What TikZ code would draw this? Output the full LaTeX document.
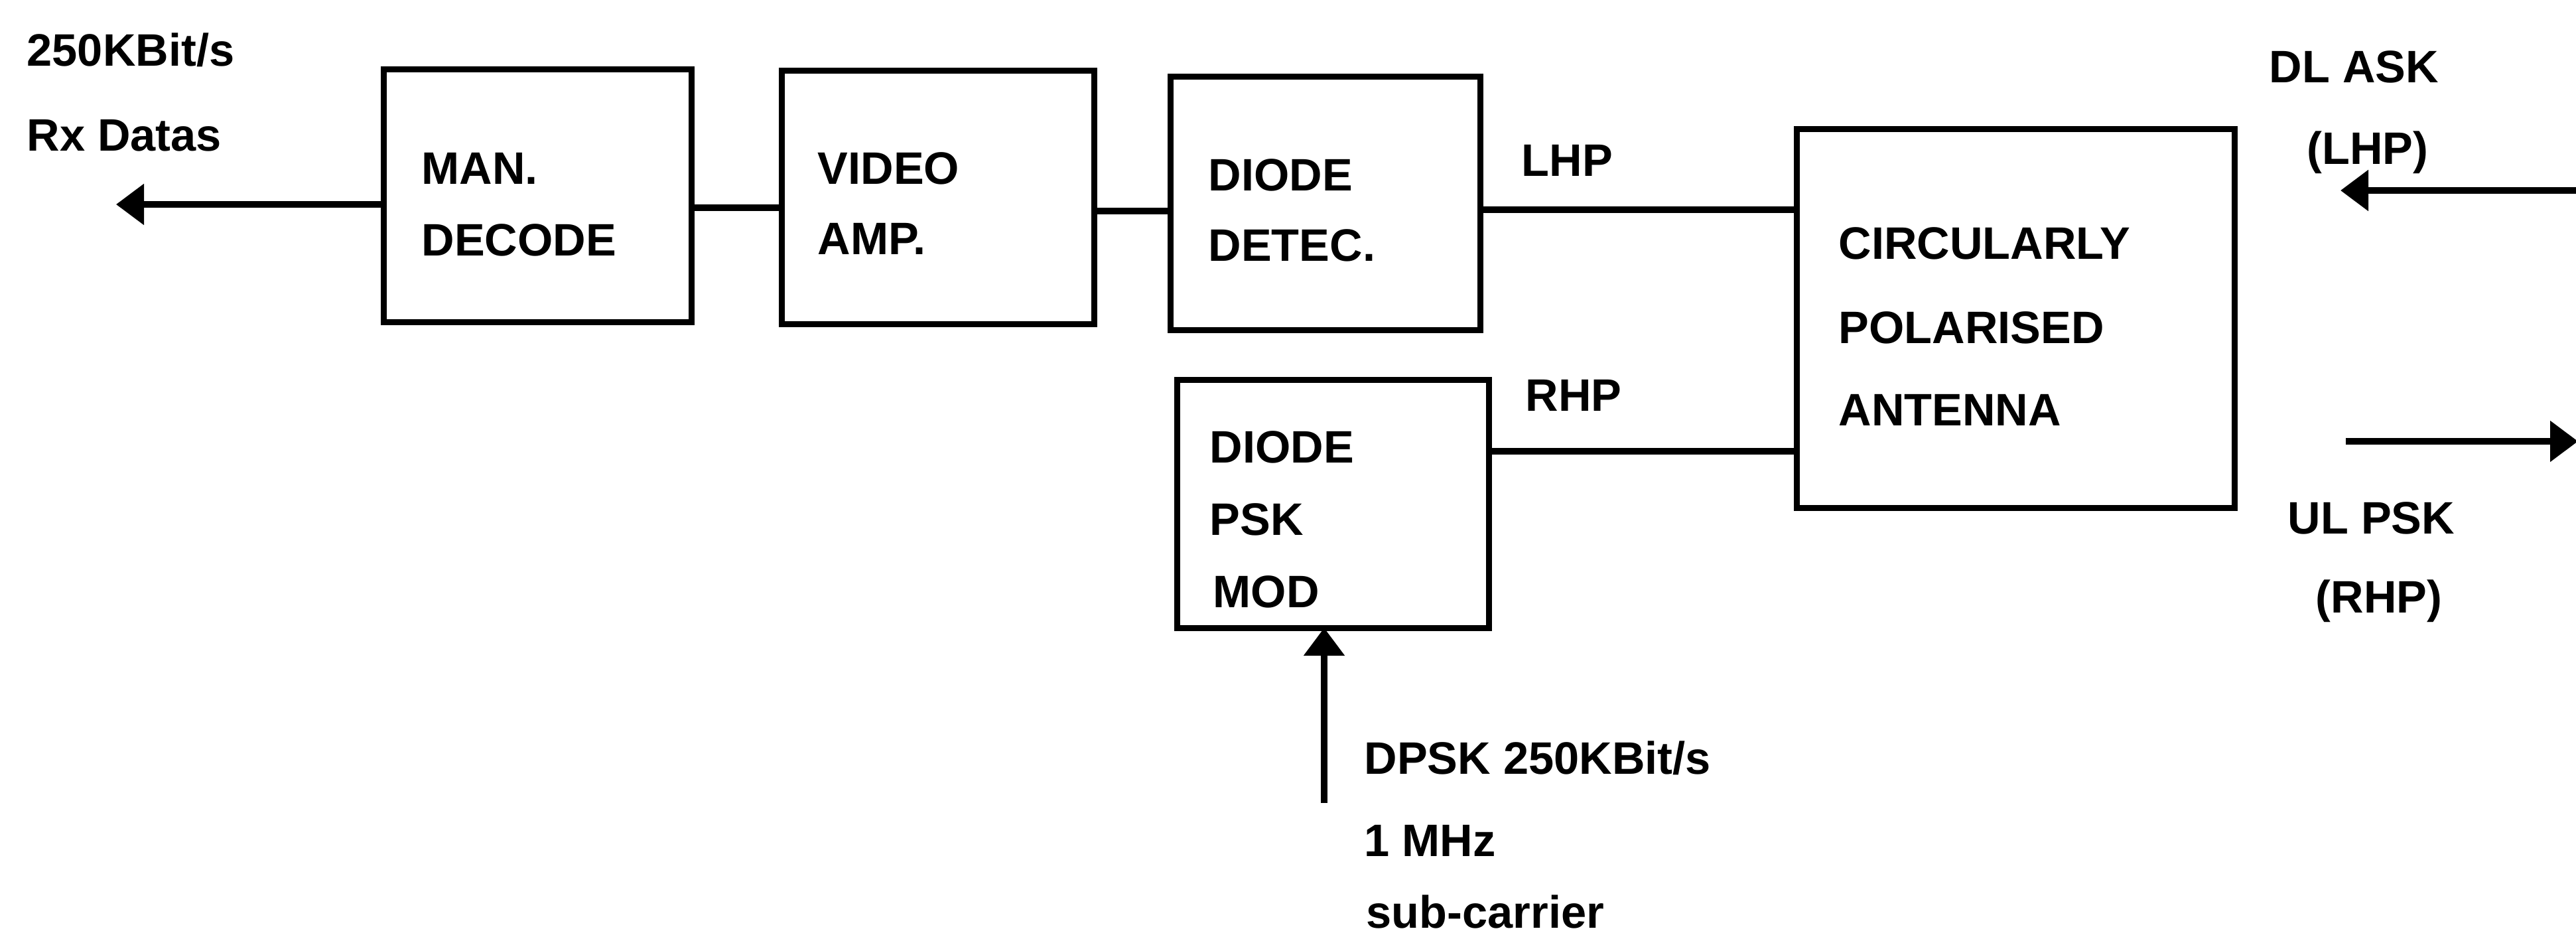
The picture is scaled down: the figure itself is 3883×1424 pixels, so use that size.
\documentclass[tikz,border=0pt]{standalone}
\usepackage{fontspec}
\setmainfont{Liberation Sans}
\usetikzlibrary{arrows.meta}
\begin{document}
\begin{tikzpicture}[x=0.01cm,y=-0.01cm,
  blk/.style={draw,line width=2.6pt,minimum width=#1,inner sep=0pt,outer sep=0pt},
  wire/.style={line width=2.6pt},
  arr/.style={line width=2.6pt,-{Triangle[length=0.42cm,width=0.6cm]}},
  lbl/.style={anchor=base west,inner sep=0pt,font=\fontsize{19.5}{23}\selectfont\bfseries}]
\useasboundingbox (0,0) rectangle (3883,1424);
% blocks
\node[blk=4.63cm,minimum height=3.80cm] (man) at (810.5,295) {};
\node[blk=4.70cm,minimum height=3.81cm] (vid) at (1414,297.5) {};
\node[blk=4.66cm,minimum height=3.81cm] (det) at (1998,306.5) {};
\node[blk=4.69cm,minimum height=3.73cm] (psk) at (2009.5,759.5) {};
\node[blk=6.59cm,minimum height=5.70cm] (ant) at (3038.5,480) {};
% block texts
\node[lbl] (t1) at (635,277) {MAN.};
\node[lbl] (t2) at (635,385) {DECODE};
\node[lbl] (t3) at (1232,277) {VIDEO};
\node[lbl] (t4) at (1232,383) {AMP.};
\node[lbl] (t5) at (1821,287) {DIODE};
\node[lbl] (t6) at (1821,393) {DETEC.};
\node[lbl] (t7) at (1823,697) {DIODE};
\node[lbl] (t8) at (1823,806) {PSK};
\node[lbl] (t9) at (1828,915) {MOD};
\node[lbl] (t10) at (2771,390) {CIRCULARLY};
\node[lbl] (t11) at (2771,517) {POLARISED};
\node[lbl] (t12) at (2771,641) {ANTENNA};
% outer labels
\node[lbl] (l1) at (40,100) {250KBit/s};
\node[lbl] (l2) at (40,227) {Rx Datas};
\node[lbl] (l3) at (2293,265) {LHP};
\node[lbl] (l4) at (2299,619) {RHP};
\node[lbl] (l5) at (3420,124) {DL ASK};
\node[lbl] (l6) at (3477,247) {(LHP)};
\node[lbl] (l7) at (3448,804) {UL PSK};
\node[lbl] (l8) at (3490,923) {(RHP)};
\node[lbl] (l9) at (2056,1166) {DPSK 250KBit/s};
\node[lbl] (l10) at (2056,1290) {1 MHz};
\node[lbl] (l11) at (2059,1398) {sub-carrier};
% free ends
\coordinate (rxout) at (175,308);
\coordinate (dlin) at (3890,287);
\coordinate (dlout) at (3528,287);
\coordinate (ulin) at (3536,665);
\coordinate (ulout) at (3886,665);
\coordinate (dpskin) at (1996,1210);
% connectors
\draw[arr] (man.west |- rxout) -- (rxout);
\draw[wire] (man.east |- 0,313) -- (vid.west |- 0,313);
\draw[wire] (vid.east |- 0,318) -- (det.west |- 0,318);
\draw[wire] (det.east |- 0,316) -- (ant.west |- 0,316);
\draw[wire] (psk.east |- 0,680) -- (ant.west |- 0,680);
\draw[arr] (dlin) -- (dlout);
\draw[arr] (ulin) -- (ulout);
\draw[arr] (dpskin) -- (dpskin |- psk.south);
\end{tikzpicture}
\end{document}
